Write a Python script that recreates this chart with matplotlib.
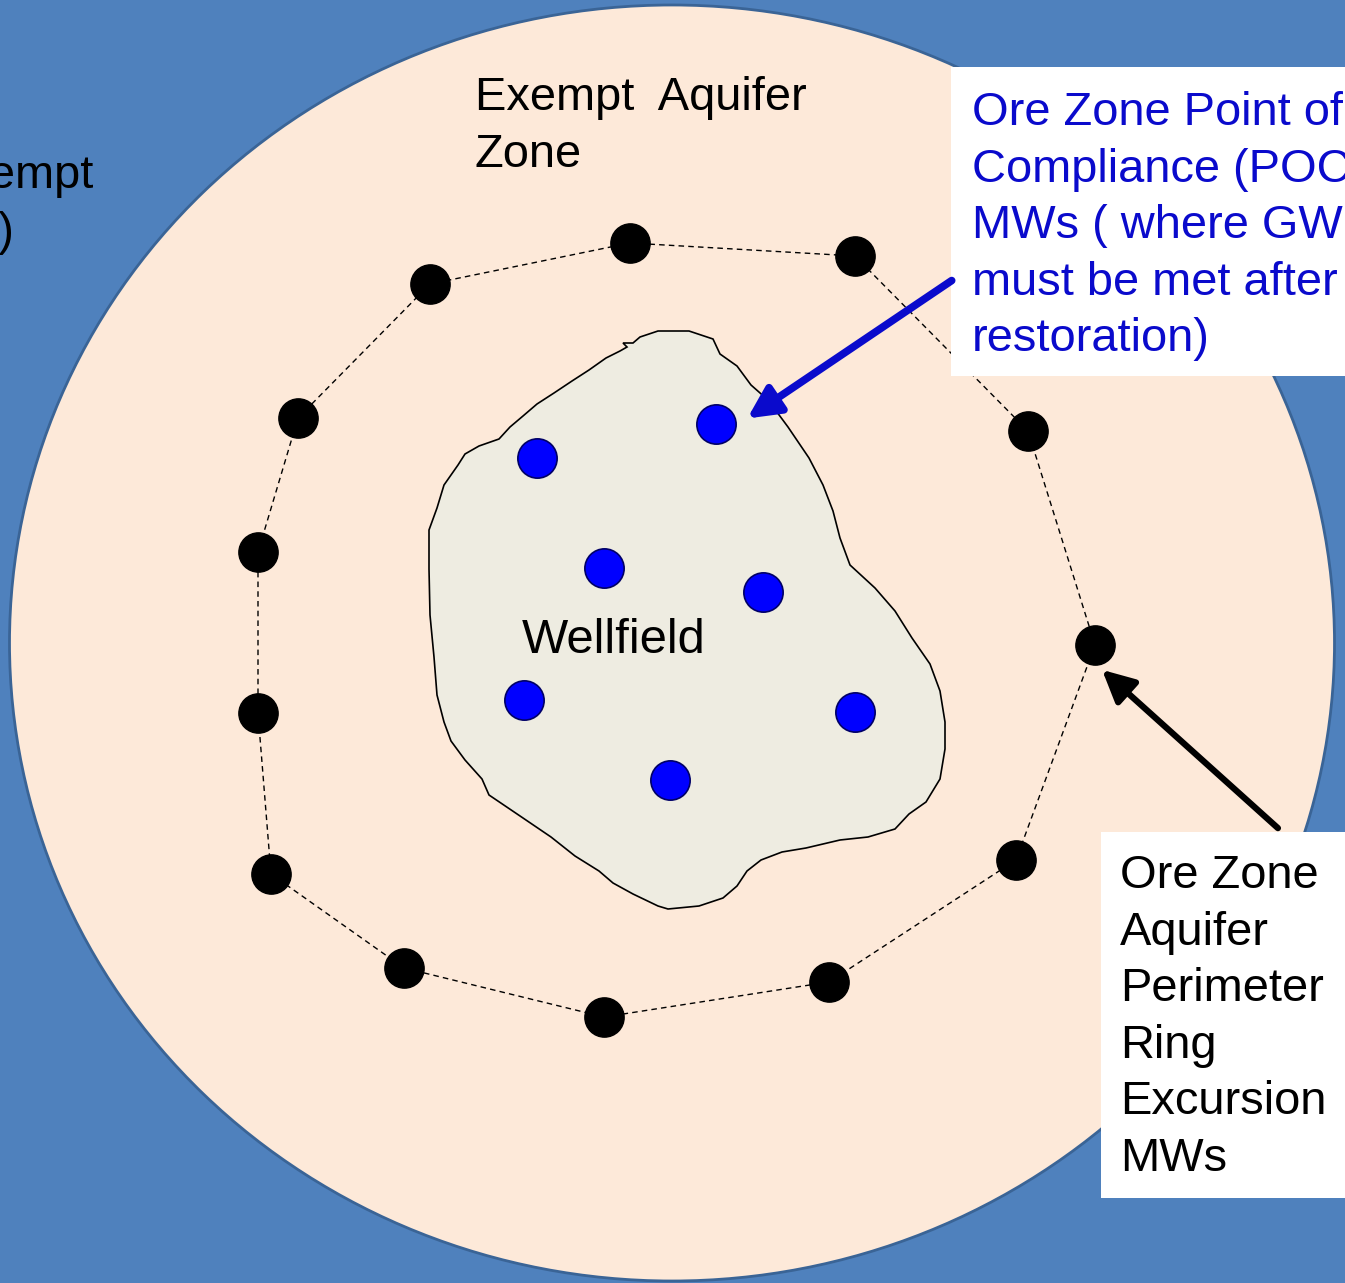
import matplotlib
matplotlib.use("Agg")
import matplotlib.pyplot as plt
from matplotlib.patches import Ellipse, Polygon, Rectangle, FancyArrowPatch

plt.rcParams['font.family'] = ['Liberation Sans', 'DejaVu Sans']

# ---- data (pixel-space diagram coordinates) ----
ring_x = [630, 855, 1028, 1095, 1016, 829, 604, 404, 271, 258, 258, 298, 430]
ring_y = [243, 256, 431, 645, 860, 982, 1017, 968, 874, 713, 552, 418, 284]

poc_x = [537, 716, 604, 763, 524, 855, 670]
poc_y = [458, 424, 568, 592, 700, 712, 780]

wellfield_x = [640, 658, 689, 713, 720, 737, 751, 768, 788, 809, 823, 833, 840, 850,
               875, 895, 912, 930, 940, 945, 945, 940, 926, 909, 895, 868, 840, 806,
               782, 761, 747, 737, 723, 699, 668, 658, 633, 613, 599, 575, 551, 523,
               489, 482, 465, 451, 444, 437, 434, 430, 429, 429, 437, 444, 458, 465,
               479, 499, 510, 523, 537, 554, 572, 589, 606, 620, 627, 623, 633]
wellfield_y = [337, 331, 331, 339, 354, 366, 385, 400, 427, 458, 485, 511, 538, 565,
               588, 611, 638, 664, 691, 722, 749, 779, 802, 814, 829, 837, 840, 848,
               852, 860, 871, 886, 898, 906, 909, 906, 894, 883, 871, 856, 837, 818,
               795, 779, 760, 741, 722, 695, 657, 615, 569, 530, 508, 485, 465, 454,
               446, 439, 427, 416, 404, 393, 381, 370, 358, 351, 347, 343, 343]

exempt_center = (672, 643)
exempt_width = 1325
exempt_height = 1276

W, H = 1345, 1283
fig = plt.figure(figsize=(W / 100, H / 100), dpi=100)
fig.patch.set_facecolor('#4F81BD')
ax = fig.add_axes([0, 0, 1, 1])
ax.set_xlim(0, W)
ax.set_ylim(H, 0)
ax.axis('off')
ax.set_facecolor('#4F81BD')

# exempt aquifer zone (ellipse)
ax.add_patch(Ellipse(exempt_center, exempt_width, exempt_height, facecolor='#FDE9D9',
                     edgecolor='#3A6496', lw=2, zorder=1))

# wellfield
ax.add_patch(Polygon(list(zip(wellfield_x, wellfield_y)), closed=True,
                     facecolor='#EEECE1', edgecolor='black', lw=1.2, zorder=2))

# perimeter ring dashed line
ax.plot(ring_x + ring_x[:1], ring_y + ring_y[:1], color='black', lw=1.0,
        ls=(0, (4, 3)), zorder=3)
ax.scatter(ring_x, ring_y, s=800, color='black', zorder=4)

# POC wells
ax.scatter(poc_x, poc_y, s=800, color='#0000FF', edgecolors='#000066',
           linewidths=1.2, zorder=4)

def px(v):
    return v * 0.72

FS = px(47)
LS = 1.37

# labels
ax.text(475, 76, "Exempt  Aquifer\nZone", fontsize=FS, va='top', ha='left',
        color='black', linespacing=LS, zorder=5)
ax.text(93, 188, "Non-Exempt", fontsize=FS, va='baseline', ha='right',
        color='black', zorder=5)
ax.text(14, 245, "Aquifer (USDW)", fontsize=FS, va='baseline', ha='right',
        color='black', zorder=5)
ax.text(614, 653, "Wellfield", fontsize=px(49), va='baseline', ha='center',
        color='black', zorder=5)

# POC label box
ax.add_patch(Rectangle((951, 67), 420, 309, facecolor='white', edgecolor='none', zorder=5))
ax.text(972, 91, "Ore Zone Point of\nCompliance (POC)\nMWs ( where GWPS\nmust be met after\nrestoration)",
        fontsize=FS, va='top', ha='left', color='#0A0ACC', linespacing=LS, zorder=6)

# Perimeter label box
ax.add_patch(Rectangle((1101, 832), 260, 366, facecolor='white', edgecolor='none', zorder=5))
ax.text(1120, 854, "Ore Zone\nAquifer\nPerimeter\nRing\nExcursion\nMWs",
        fontsize=FS, va='top', ha='left', color='black', linespacing=LS, zorder=6)

# arrows
ax.add_patch(FancyArrowPatch((954, 279), (745, 420), arrowstyle='-|>,head_length=12,head_width=6',
                             mutation_scale=1.6, color='#0A0ACC', lw=5.5, zorder=6))
ax.add_patch(FancyArrowPatch((1280, 830), (1100, 668), arrowstyle='-|>,head_length=12,head_width=6',
                             mutation_scale=1.6, color='black', lw=4.5, zorder=6))

fig.savefig('out.png', dpi=100, facecolor=fig.get_facecolor())
